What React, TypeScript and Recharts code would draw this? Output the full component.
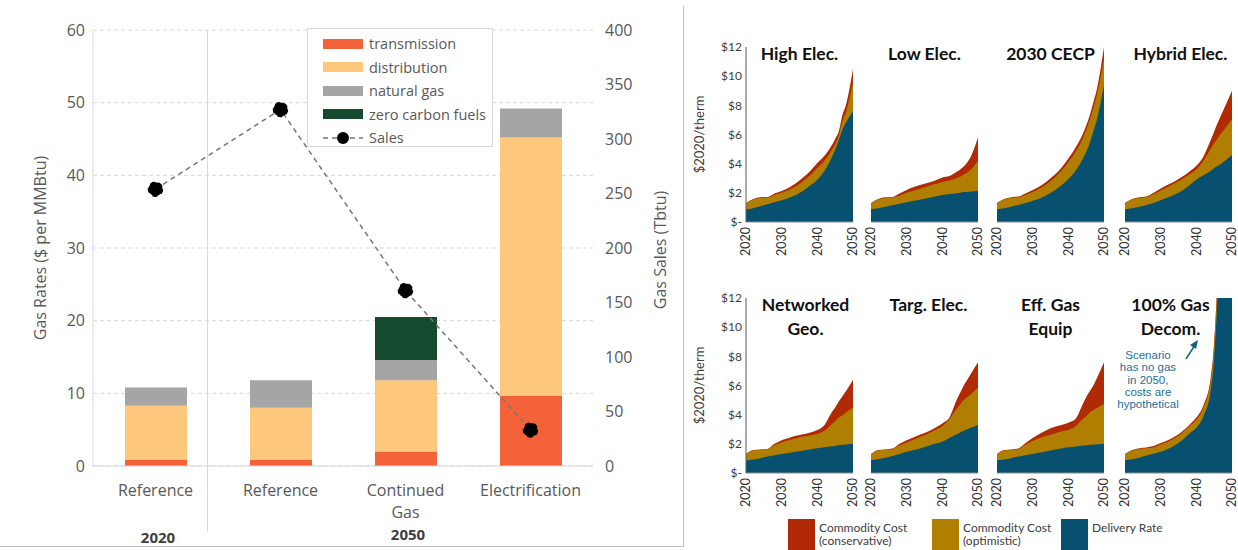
import React from "react";
import {
  ComposedChart, Bar, Line, XAxis, YAxis, CartesianGrid, Legend,
  AreaChart, Area,
} from "recharts";

// ---- left chart: gas rates by component + sales ----
const categories = ["Reference", "Reference", "Continued\nGas", "Electrification"];
const transmission = [0.9, 0.9, 2.0, 9.7];
const distribution = [7.4, 7.1, 9.8, 35.5];
const naturalGas = [2.5, 3.8, 2.8, 4.0];
const zeroCarbonFuels = [0, 0, 5.9, 0];
const sales = [254, 327, 161, 33];

const rateTicks = [0, 10, 20, 30, 40, 50, 60];
const salesTicks = [0, 50, 100, 150, 200, 250, 300, 350, 400];

// ---- right panels: rate trajectories ($2020/therm) ----
const years = [2020, 2022, 2024, 2026, 2028, 2030, 2032, 2034, 2036, 2038, 2040, 2042, 2044, 2045, 2046, 2047, 2048, 2050];
const yearTicks = [2020, 2030, 2040, 2050];
const thermTicks = [0, 2, 4, 6, 8, 10, 12];

const highElecDelivery = [0.87, 0.95, 1.08, 1.22, 1.36, 1.5, 1.65, 1.85, 2.15, 2.5, 2.9, 3.5, 4.4, 4.95, 5.6, 6.3, 6.8, 7.6];
const highElecOptimistic = [1.26, 1.55, 1.65, 1.68, 1.85, 2.0, 2.2, 2.45, 2.8, 3.2, 3.7, 4.2, 4.9, 5.35, 5.9, 6.9, 7.5, 9.6];
const highElecConservative = [1.3, 1.58, 1.7, 1.72, 1.95, 2.12, 2.35, 2.65, 3.05, 3.5, 4.05, 4.55, 5.25, 5.7, 6.2, 7.3, 8.0, 10.5];

const lowElecDelivery = [0.87, 0.95, 1.05, 1.15, 1.25, 1.35, 1.45, 1.55, 1.65, 1.75, 1.85, 1.92, 1.98, 2.0, 2.05, 2.08, 2.1, 2.15];
const lowElecOptimistic = [1.26, 1.55, 1.65, 1.68, 1.8, 2.0, 2.15, 2.3, 2.45, 2.6, 2.75, 2.85, 3.0, 3.1, 3.25, 3.4, 3.6, 4.2];
const lowElecConservative = [1.3, 1.58, 1.7, 1.72, 1.95, 2.2, 2.4, 2.55, 2.7, 2.85, 3.05, 3.15, 3.45, 3.6, 3.8, 4.1, 4.5, 5.8];

const cecpDelivery = [0.87, 0.95, 1.05, 1.17, 1.3, 1.45, 1.62, 1.85, 2.15, 2.5, 2.95, 3.5, 4.3, 4.8, 5.4, 6.2, 7.0, 9.4];
const cecpOptimistic = [1.26, 1.55, 1.65, 1.7, 1.85, 2.05, 2.3, 2.6, 3.0, 3.5, 4.1, 4.8, 5.7, 6.3, 7.0, 7.8, 8.7, 11.2];
const cecpConservative = [1.3, 1.58, 1.7, 1.75, 1.95, 2.2, 2.45, 2.8, 3.2, 3.7, 4.35, 5.1, 6.0, 6.6, 7.3, 8.2, 9.1, 12.0];

const hybridDelivery = [0.87, 0.95, 1.05, 1.17, 1.3, 1.5, 1.68, 1.9, 2.15, 2.5, 2.9, 3.2, 3.5, 3.7, 3.85, 4.0, 4.2, 4.6];
const hybridOptimistic = [1.26, 1.55, 1.65, 1.7, 1.9, 2.15, 2.4, 2.65, 2.95, 3.25, 3.6, 4.2, 5.0, 5.4, 5.75, 6.1, 6.4, 7.05];
const hybridConservative = [1.3, 1.58, 1.7, 1.75, 2.0, 2.3, 2.55, 2.8, 3.1, 3.45, 3.85, 4.5, 5.6, 6.2, 6.8, 7.35, 7.9, 9.0];

const geoDelivery = [0.87, 0.92, 1.02, 1.13, 1.22, 1.3, 1.38, 1.46, 1.55, 1.62, 1.7, 1.76, 1.83, 1.86, 1.9, 1.93, 1.96, 2.0];
const geoOptimistic = [1.26, 1.55, 1.6, 1.63, 1.9, 2.1, 2.25, 2.38, 2.5, 2.58, 2.68, 2.9, 3.35, 3.55, 3.8, 3.95, 4.15, 4.5];
const geoConservative = [1.3, 1.58, 1.62, 1.65, 2.0, 2.25, 2.4, 2.55, 2.65, 2.78, 2.95, 3.3, 4.15, 4.5, 4.9, 5.25, 5.6, 6.4];

const targDelivery = [0.87, 0.95, 1.05, 1.17, 1.3, 1.45, 1.58, 1.7, 1.85, 2.0, 2.15, 2.4, 2.65, 2.78, 2.9, 3.0, 3.1, 3.3];
const targOptimistic = [1.26, 1.55, 1.6, 1.65, 1.9, 2.1, 2.3, 2.5, 2.7, 2.95, 3.2, 3.7, 4.4, 4.7, 5.0, 5.2, 5.4, 5.85];
const targConservative = [1.3, 1.58, 1.62, 1.68, 2.0, 2.25, 2.45, 2.65, 2.85, 3.1, 3.4, 3.8, 5.0, 5.5, 6.0, 6.4, 6.8, 7.6];

const effGasDelivery = [0.87, 0.92, 1.02, 1.13, 1.22, 1.3, 1.4, 1.5, 1.6, 1.68, 1.76, 1.82, 1.88, 1.9, 1.93, 1.95, 1.96, 2.0];
const effGasOptimistic = [1.26, 1.55, 1.6, 1.63, 1.95, 2.2, 2.4, 2.55, 2.7, 2.85, 2.95, 3.2, 3.7, 3.9, 4.15, 4.3, 4.45, 4.75];
const effGasConservative = [1.3, 1.58, 1.62, 1.68, 2.05, 2.4, 2.7, 2.95, 3.15, 3.3, 3.45, 3.7, 4.7, 5.2, 5.6, 6.0, 6.5, 7.6];

const decomDelivery = [0.87, 0.95, 1.05, 1.2, 1.32, 1.45, 1.65, 1.9, 2.25, 2.7, 3.1, 3.9, 5.6, 7.9, 12.5, 20, 30, 40];
const decomOptimistic = [1.26, 1.55, 1.65, 1.7, 1.75, 1.95, 2.15, 2.4, 2.75, 3.2, 3.65, 4.5, 6.3, 8.7, 13.5, 21, 31, 41];
const decomConservative = [1.3, 1.58, 1.7, 1.75, 1.85, 2.05, 2.25, 2.5, 2.85, 3.3, 3.8, 4.65, 6.5, 9.0, 14, 22, 32, 42];

const LEFT_FONT = "'Open Sans', sans-serif";
const RIGHT_FONT = "Lato, 'Open Sans', sans-serif";
const GREY = "#595959";

const COLORS = {
  transmission: "#f4623a",
  distribution: "#fec87c",
  naturalGas: "#a5a5a5",
  zeroCarbon: "#154a31",
  conservative: "#b02a06",
  optimistic: "#b07f02",
  delivery: "#08506f",
};

const legendOrder = ["transmission", "distribution", "naturalGas", "zeroCarbon", "sales"];

const barData = categories.map((name, i) => ({
  name,
  transmission: transmission[i],
  distribution: distribution[i],
  naturalGas: naturalGas[i],
  zeroCarbon: zeroCarbonFuels[i],
  sales: sales[i],
}));

function CategoryTick({ x, y, payload }: any) {
  const lines = String(payload.value).split("\n");
  return (
    <text x={x} y={y} textAnchor="middle" fill={GREY} fontSize={16} fontFamily={LEFT_FONT}>
      {lines.map((l, i) => (
        <tspan key={i} x={x} dy={22}>{l}</tspan>
      ))}
    </text>
  );
}

function RatesLegend({ payload }: any) {
  const items = [...(payload || [])].sort(
    (a: any, b: any) => legendOrder.indexOf(a.dataKey) - legendOrder.indexOf(b.dataKey)
  );
  return (
    <div style={{
      width: 186, height: 119, boxSizing: "border-box", background: "#fff",
      border: "1px solid #d9d9d9", padding: "3px 0 0 15px", fontFamily: LEFT_FONT,
    }}>
      {items.map((p: any) => (
        <div key={p.value} style={{ display: "flex", alignItems: "center", height: 23.5, whiteSpace: "nowrap" }}>
          {p.dataKey === "sales" ? (
            <svg width={40} height={16} style={{ marginRight: 6, flex: "none" }}>
              <line x1={0} y1={8} x2={40} y2={8} stroke="#767676" strokeWidth={1.5} strokeDasharray="5 4" />
              <circle cx={20} cy={8} r={6} fill="#000" />
            </svg>
          ) : (
            <div style={{ width: 40, height: 10, background: p.color, marginRight: 6, flex: "none" }} />
          )}
          <span style={{ fontSize: 14.5, color: GREY }}>{p.value}</span>
        </div>
      ))}
    </div>
  );
}

function RatesChart() {
  return (
    <div style={{ position: "absolute", left: 0, top: 0 }}>
      <ComposedChart width={690} height={550} data={barData} margin={{ top: 30, right: 0, bottom: 0, left: 0 }}>
        <CartesianGrid yAxisId="left" vertical={false} stroke="#d9d9d9" strokeDasharray="4 3" />
        <XAxis dataKey="name" height={84} tickLine={false} axisLine={{ stroke: "#d9d9d9" }} tick={<CategoryTick />} interval={0} />
        <YAxis
          yAxisId="left" domain={[0, 60]} ticks={rateTicks} width={93}
          tickLine={false} axisLine={{ stroke: "#d9d9d9" }}
          tick={{ fill: GREY, fontSize: 16, fontFamily: LEFT_FONT }}
          label={{
            content: () => (
              <text transform="translate(46,248) rotate(-90)" textAnchor="middle" fill={GREY} fontSize={16} fontFamily={LEFT_FONT}>
                Gas Rates ($ per MMBtu)
              </text>
            ),
          }}
        />
        <YAxis
          yAxisId="right" orientation="right" domain={[0, 400]} ticks={salesTicks} width={97}
          tickLine={false} axisLine={false} tickSize={4} tickMargin={8}
          tick={{ fill: GREY, fontSize: 16, fontFamily: LEFT_FONT, textAnchor: "start" }}
          label={{
            content: () => (
              <text transform="translate(666,250) rotate(-90)" textAnchor="middle" fill={GREY} fontSize={16} fontFamily={LEFT_FONT}>
                Gas Sales (Tbtu)
              </text>
            ),
          }}
        />
        <Legend
          layout="vertical" align="center" verticalAlign="middle"
          content={<RatesLegend />}
          wrapperStyle={{ left: 307, top: 28, width: 186, height: 119 }}
        />
        <Bar yAxisId="left" dataKey="transmission" name="transmission" stackId="a" fill={COLORS.transmission} barSize={62} isAnimationActive={false} />
        <Bar yAxisId="left" dataKey="distribution" name="distribution" stackId="a" fill={COLORS.distribution} barSize={62} isAnimationActive={false} />
        <Bar yAxisId="left" dataKey="naturalGas" name="natural gas" stackId="a" fill={COLORS.naturalGas} barSize={62} isAnimationActive={false} />
        <Bar yAxisId="left" dataKey="zeroCarbon" name="zero carbon fuels" stackId="a" fill={COLORS.zeroCarbon} barSize={62} isAnimationActive={false} />
        <Line
          yAxisId="right" dataKey="sales" name="Sales" stroke="#767676" strokeWidth={1.5} strokeDasharray="5 4"
          dot={{ r: 7, fill: "#000", stroke: "#000" }} activeDot={false} isAnimationActive={false}
        />
      </ComposedChart>
      {/* group separator + year groups */}
      <div style={{ position: "absolute", left: 207, top: 30, width: 1, height: 502, background: "#d9d9d9" }} />
      <div style={{ position: "absolute", left: 118, top: 527, width: 80, textAlign: "center", fontFamily: LEFT_FONT, fontWeight: 700, fontSize: 15, color: "#404040" }}>2020</div>
      <div style={{ position: "absolute", left: 368, top: 524, width: 80, textAlign: "center", fontFamily: LEFT_FONT, fontWeight: 700, fontSize: 15, color: "#404040" }}>2050</div>
      {/* panel frame */}
      <div style={{ position: "absolute", left: 683, top: 6, width: 1, height: 541, background: "#bfbfbf" }} />
      <div style={{ position: "absolute", left: 0, top: 546, width: 684, height: 1, background: "#bfbfbf" }} />
    </div>
  );
}

function YearTick({ x, y, payload }: any) {
  return (
    <g transform={`translate(${x},${y})`}>
      <text transform="rotate(-90)" textAnchor="end" dy="0.35em" fill="#333" fontSize={12.5} fontFamily={RIGHT_FONT}>
        {payload.value}
      </text>
    </g>
  );
}

const PLOT_W = 107;
const PLOT_H = 175;
const TOP_PAD = 8;

const scenarios = [
  { title: ["High Elec."], delivery: highElecDelivery, optimistic: highElecOptimistic, conservative: highElecConservative, col: 0, row: 0, dx: 0 },
  { title: ["Low Elec."], delivery: lowElecDelivery, optimistic: lowElecOptimistic, conservative: lowElecConservative, col: 1, row: 0, dx: 0 },
  { title: ["2030 CECP"], delivery: cecpDelivery, optimistic: cecpOptimistic, conservative: cecpConservative, col: 2, row: 0, dx: 0 },
  { title: ["Hybrid Elec."], delivery: hybridDelivery, optimistic: hybridOptimistic, conservative: hybridConservative, col: 3, row: 0, dx: 2 },
  { title: ["Networked", "Geo."], delivery: geoDelivery, optimistic: geoOptimistic, conservative: geoConservative, col: 0, row: 1, dx: 6 },
  { title: ["Targ. Elec."], delivery: targDelivery, optimistic: targOptimistic, conservative: targConservative, col: 1, row: 1, dx: 4 },
  { title: ["Eff. Gas", "Equip"], delivery: effGasDelivery, optimistic: effGasOptimistic, conservative: effGasConservative, col: 2, row: 1, dx: 0 },
  { title: ["100% Gas", "Decom."], delivery: decomDelivery, optimistic: decomOptimistic, conservative: decomConservative, col: 3, row: 1, dx: -8 },
];

const colLefts = [746, 871, 997, 1125];
const rowTops = [47, 298];

function ScenarioPanel({ s }: any) {
  const first = s.col === 0;
  const plotLeft = colLefts[s.col];
  const plotTop = rowTops[s.row];
  const yW = first ? 56 : 0;
  const mL = first ? 0 : 8;
  const data = years.map((yr, i) => ({
    year: yr,
    delivery: s.delivery[i],
    optimistic: s.optimistic[i],
    conservative: s.conservative[i],
  }));
  return (
    <>
      <div style={{ position: "absolute", left: plotLeft - yW - mL, top: plotTop - TOP_PAD }}>
        <AreaChart
          width={PLOT_W + yW + mL + 8} height={PLOT_H + 40 + TOP_PAD} data={data}
          margin={{ top: TOP_PAD, right: 8, bottom: 0, left: mL }}
        >
          <XAxis
            dataKey="year" type="number" domain={[2020, 2050]} ticks={yearTicks} height={40} interval={0}
            tickLine={false} tickMargin={1} tickSize={4} axisLine={{ stroke: "#8c8c8c" }} tick={<YearTick />}
          />
          <YAxis
            domain={[0, 12]} ticks={thermTicks} allowDataOverflow hide={!first} width={yW} interval={0}
            tickLine={false} tickSize={4} tickMargin={0} axisLine={{ stroke: "#595959" }}
            tick={{ fill: "#404040", fontSize: 12, fontFamily: RIGHT_FONT }}
            tickFormatter={(v: number) => (v === 0 ? "$-" : `$${v}`)}
            label={{
              content: () => (
                <text transform={`translate(14,${TOP_PAD + PLOT_H / 2}) rotate(-90)`} textAnchor="middle" fill="#404040" fontSize={13} fontFamily={RIGHT_FONT}>
                  $2020/therm
                </text>
              ),
            }}
          />
          <Area dataKey="conservative" type="monotone" stroke="none" fill={COLORS.conservative} fillOpacity={1} dot={false} activeDot={false} isAnimationActive={false} />
          <Area dataKey="optimistic" type="monotone" stroke="none" fill={COLORS.optimistic} fillOpacity={1} dot={false} activeDot={false} isAnimationActive={false} />
          <Area dataKey="delivery" type="monotone" stroke="none" fill={COLORS.delivery} fillOpacity={1} dot={false} activeDot={false} isAnimationActive={false} />
        </AreaChart>
      </div>
      <div style={{
        position: "absolute", left: plotLeft + s.dx - 25, top: plotTop - 5, width: PLOT_W + 50,
        textAlign: "center", fontFamily: RIGHT_FONT, fontWeight: 700, fontSize: 17.5, lineHeight: "24px", color: "#111",
      }}>
        {s.title.map((t: string) => <div key={t}>{t}</div>)}
      </div>
    </>
  );
}

const bottomLegend = [
  { label: ["Commodity Cost", "(conservative)"], color: COLORS.conservative, left: 788 },
  { label: ["Commodity Cost", "(optimistic)"], color: COLORS.optimistic, left: 932 },
  { label: ["Delivery Rate"], color: COLORS.delivery, left: 1061 },
];

export default function App() {
  return (
    <div style={{ position: "absolute", left: 0, top: 0, width: 1238, height: 550, overflow: "hidden", background: "#fff" }}>
      <RatesChart />
      {scenarios.map((s) => <ScenarioPanel key={s.title.join(" ")} s={s} />)}
      {/* note on the decommissioning panel */}
      <div style={{
        position: "absolute", left: 1112, top: 349, width: 72, textAlign: "center",
        fontFamily: "'Liberation Sans', Arial, sans-serif", fontSize: 11.5, lineHeight: "12.3px", color: "#1f6e98",
      }}>
        Scenario<br />has no gas<br />in 2050,<br />costs are<br />hypothetical
      </div>
      <svg style={{ position: "absolute", left: 1180, top: 336 }} width={24} height={28}>
        <line x1={6} y1={23} x2={15} y2={9} stroke="#1a5f80" strokeWidth={1.5} />
        <polygon points="18,4 10,9 16,13" fill="#1a5f80" />
      </svg>
      {bottomLegend.map((l) => (
        <div key={l.left} style={{ position: "absolute", left: l.left, top: 519, display: "flex" }}>
          <div style={{ width: 27, height: 31, background: l.color, marginRight: 4 }} />
          <div style={{ fontFamily: RIGHT_FONT, fontSize: 12, lineHeight: "13px", color: "#404040", paddingTop: 2, whiteSpace: "nowrap" }}>
            {l.label.map((t) => <div key={t}>{t}</div>)}
          </div>
        </div>
      ))}
    </div>
  );
}
